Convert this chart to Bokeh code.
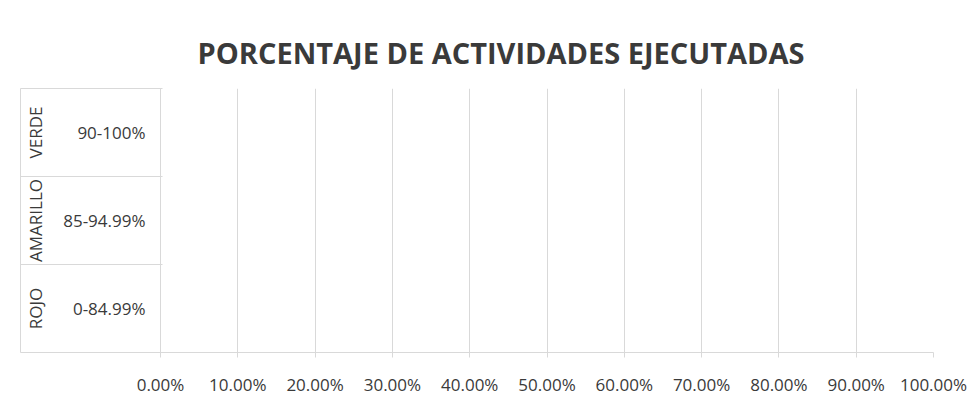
import math
from bokeh.plotting import figure
from bokeh.models import (FactorRange, Range1d, CategoricalAxis, LinearAxis, FixedTicker,
                          NumeralTickFormatter, ColumnDataSource)
from bokeh.embed import file_html
from bokeh.resources import INLINE

title_text = "PORCENTAJE DE ACTIVIDADES EJECUTADAS"
levels = ["ROJO", "AMARILLO", "VERDE"]
ranges = ["0-84.99%", "85-94.99%", "90-100%"]
executed = [0.0, 0.0, 0.0]
x_ticks = [0.0, 0.1, 0.2, 0.3, 0.4, 0.5, 0.6, 0.7, 0.8, 0.9, 1.0]

FONT = "Open Sans"
TXT = "#3a3a3a"
GRID = "#d9d9d9"

# band edges of the categorical axis (synthetic coordinates)
edges = list(range(len(levels) + 1))

p = figure(width=969, height=398, y_range=FactorRange(factors=ranges),
           x_range=Range1d(x_ticks[0], x_ticks[-1]),
           output_backend="svg", toolbar_location=None,
           min_border_left=160, min_border_right=36, min_border_top=88, min_border_bottom=46)
p.extra_y_ranges = {"grp": FactorRange(factors=levels)}

src = ColumnDataSource(dict(rng=ranges, lvl=levels, val=executed))
p.hbar(y="rng", right="val", left=0, height=0.6, source=src,
       fill_color="#70ad47", line_color=None)

p.outline_line_color = None
p.ygrid.visible = False
p.xgrid.ticker = FixedTicker(ticks=x_ticks)
p.xgrid.grid_line_color = GRID
p.xgrid.grid_line_width = 1

# title
p.title.text = title_text
p.title.text_font = FONT
p.title.text_font_style = "bold"
p.title.text_font_size = "29px"
p.title.text_color = TXT
p.title.align = "left"
p.title.offset = 37
p.title.padding = (0, 0, 0, 12)

# x axis
xa = p.xaxis[0]
xa.ticker = FixedTicker(ticks=x_ticks)
xa.formatter = NumeralTickFormatter(format="0.00%")
xa.axis_line_color = GRID
xa.major_tick_line_color = GRID
xa.major_tick_out = 5
xa.major_tick_in = 0
xa.minor_tick_out = 0
xa.minor_tick_in = 0
xa.major_label_standoff = 15
xa.major_label_text_font = FONT
xa.major_label_text_font_size = "17px"
xa.major_label_text_color = TXT

# inner y axis (ranges)
ya = p.yaxis[0]
ya.axis_line_color = GRID
ya.major_tick_out = 0
ya.major_tick_in = 0
ya.major_label_standoff = 15
ya.major_label_text_font = FONT
ya.major_label_text_font_size = "17px"
ya.major_label_text_color = TXT

# outer y axis (levels)
ga = CategoricalAxis(y_range_name="grp")
ga.axis_line_color = None
ga.major_tick_out = 0
ga.major_tick_in = 0
ga.major_label_orientation = "parallel"
ga.major_label_standoff = 14
ga.major_label_text_font = FONT
ga.major_label_text_font_size = "17px"
ga.major_label_text_color = TXT
p.add_layout(ga, "left")

# table borders of the label area
ea = LinearAxis(ticker=FixedTicker(ticks=edges))
ea.axis_line_color = GRID
ea.major_tick_line_color = GRID
ea.major_tick_in = 142
ea.major_tick_out = 0
ea.minor_tick_in = 0
ea.minor_tick_out = 0
ea.major_label_standoff = 0
ea.major_label_overrides = {e: "" for e in edges}
p.add_layout(ea, "left")

open("out.html", "w").write(file_html(p, INLINE))
